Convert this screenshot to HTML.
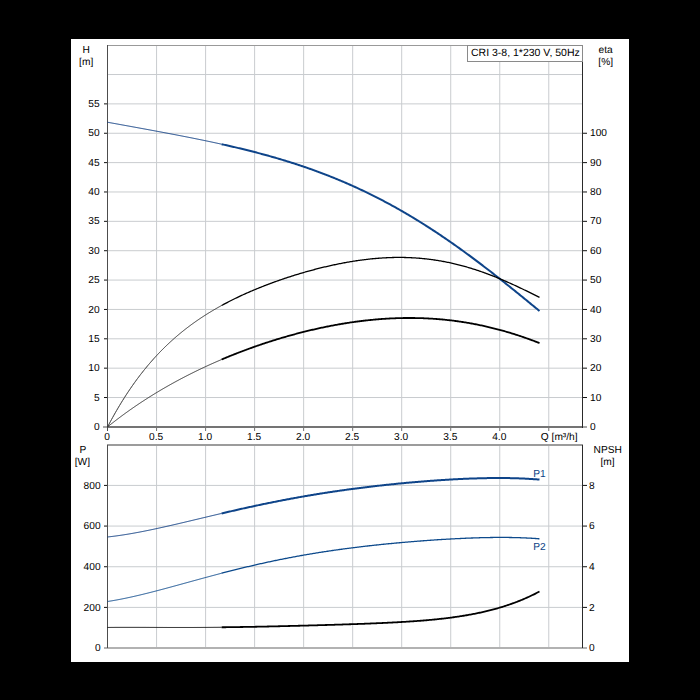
<!DOCTYPE html><html><head><meta charset="utf-8"><style>html,body{margin:0;padding:0;background:#000;width:700px;height:700px;overflow:hidden}svg{display:block}text{font-family:"Liberation Sans",sans-serif;font-size:10.2px;fill:#000;text-rendering:geometricPrecision}</style></head><body>
<svg width="700" height="700" viewBox="0 0 700 700">
<rect x="0" y="0" width="700" height="700" fill="#000"/>
<rect x="71" y="39" width="558" height="623" fill="#fff"/>
<line x1="156.57" y1="45" x2="156.57" y2="426" stroke="#c9cccf" stroke-width="1"/><line x1="205.60" y1="45" x2="205.60" y2="426" stroke="#c9cccf" stroke-width="1"/><line x1="254.62" y1="45" x2="254.62" y2="426" stroke="#c9cccf" stroke-width="1"/><line x1="303.65" y1="45" x2="303.65" y2="426" stroke="#c9cccf" stroke-width="1"/><line x1="352.68" y1="45" x2="352.68" y2="426" stroke="#c9cccf" stroke-width="1"/><line x1="401.70" y1="45" x2="401.70" y2="426" stroke="#c9cccf" stroke-width="1"/><line x1="450.73" y1="45" x2="450.73" y2="426" stroke="#c9cccf" stroke-width="1"/><line x1="499.75" y1="45" x2="499.75" y2="426" stroke="#c9cccf" stroke-width="1"/><line x1="548.77" y1="45" x2="548.77" y2="426" stroke="#c9cccf" stroke-width="1"/><line x1="107" y1="397.53" x2="582" y2="397.53" stroke="#c9cccf" stroke-width="1"/><line x1="107" y1="368.17" x2="582" y2="368.17" stroke="#c9cccf" stroke-width="1"/><line x1="107" y1="338.80" x2="582" y2="338.80" stroke="#c9cccf" stroke-width="1"/><line x1="107" y1="309.44" x2="582" y2="309.44" stroke="#c9cccf" stroke-width="1"/><line x1="107" y1="280.07" x2="582" y2="280.07" stroke="#c9cccf" stroke-width="1"/><line x1="107" y1="250.71" x2="582" y2="250.71" stroke="#c9cccf" stroke-width="1"/><line x1="107" y1="221.34" x2="582" y2="221.34" stroke="#c9cccf" stroke-width="1"/><line x1="107" y1="191.98" x2="582" y2="191.98" stroke="#c9cccf" stroke-width="1"/><line x1="107" y1="162.61" x2="582" y2="162.61" stroke="#c9cccf" stroke-width="1"/><line x1="107" y1="133.25" x2="582" y2="133.25" stroke="#c9cccf" stroke-width="1"/><line x1="107" y1="103.88" x2="582" y2="103.88" stroke="#c9cccf" stroke-width="1"/><line x1="107" y1="74.52" x2="582" y2="74.52" stroke="#c9cccf" stroke-width="1"/>
<line x1="107" y1="45.5" x2="583" y2="45.5" stroke="#999" stroke-width="1"/>
<rect x="103" y="426" width="4" height="2" fill="#a8a8a8"/><rect x="583" y="426" width="4" height="2" fill="#a8a8a8"/><rect x="107" y="426" width="476" height="2" fill="#747474"/>
<line x1="156.57" y1="428" x2="156.57" y2="431" stroke="#707070" stroke-width="1"/>
<line x1="205.60" y1="428" x2="205.60" y2="431" stroke="#707070" stroke-width="1"/>
<line x1="254.62" y1="428" x2="254.62" y2="431" stroke="#707070" stroke-width="1"/>
<line x1="303.65" y1="428" x2="303.65" y2="431" stroke="#707070" stroke-width="1"/>
<line x1="352.68" y1="428" x2="352.68" y2="431" stroke="#707070" stroke-width="1"/>
<line x1="401.70" y1="428" x2="401.70" y2="431" stroke="#707070" stroke-width="1"/>
<line x1="450.73" y1="428" x2="450.73" y2="431" stroke="#707070" stroke-width="1"/>
<line x1="499.75" y1="428" x2="499.75" y2="431" stroke="#707070" stroke-width="1"/>
<line x1="548.77" y1="428" x2="548.77" y2="431" stroke="#707070" stroke-width="1"/>
<line x1="104" y1="397.53" x2="107" y2="397.53" stroke="#111" stroke-width="1"/>
<line x1="104" y1="368.17" x2="107" y2="368.17" stroke="#111" stroke-width="1"/>
<line x1="104" y1="338.80" x2="107" y2="338.80" stroke="#111" stroke-width="1"/>
<line x1="104" y1="309.44" x2="107" y2="309.44" stroke="#111" stroke-width="1"/>
<line x1="104" y1="280.07" x2="107" y2="280.07" stroke="#111" stroke-width="1"/>
<line x1="104" y1="250.71" x2="107" y2="250.71" stroke="#111" stroke-width="1"/>
<line x1="104" y1="221.34" x2="107" y2="221.34" stroke="#111" stroke-width="1"/>
<line x1="104" y1="191.98" x2="107" y2="191.98" stroke="#111" stroke-width="1"/>
<line x1="104" y1="162.61" x2="107" y2="162.61" stroke="#111" stroke-width="1"/>
<line x1="104" y1="133.25" x2="107" y2="133.25" stroke="#111" stroke-width="1"/>
<line x1="104" y1="103.88" x2="107" y2="103.88" stroke="#111" stroke-width="1"/>
<line x1="583" y1="397.53" x2="587" y2="397.53" stroke="#111" stroke-width="1"/>
<line x1="583" y1="368.17" x2="587" y2="368.17" stroke="#111" stroke-width="1"/>
<line x1="583" y1="338.80" x2="587" y2="338.80" stroke="#111" stroke-width="1"/>
<line x1="583" y1="309.44" x2="587" y2="309.44" stroke="#111" stroke-width="1"/>
<line x1="583" y1="280.07" x2="587" y2="280.07" stroke="#111" stroke-width="1"/>
<line x1="583" y1="250.71" x2="587" y2="250.71" stroke="#111" stroke-width="1"/>
<line x1="583" y1="221.34" x2="587" y2="221.34" stroke="#111" stroke-width="1"/>
<line x1="583" y1="191.98" x2="587" y2="191.98" stroke="#111" stroke-width="1"/>
<line x1="583" y1="162.61" x2="587" y2="162.61" stroke="#111" stroke-width="1"/>
<line x1="583" y1="133.25" x2="587" y2="133.25" stroke="#111" stroke-width="1"/>
<rect x="107" y="45" width="1" height="386" fill="#4d4d4d"/>
<rect x="582" y="45" width="1" height="383" fill="#2a2a2a"/>
<rect x="467.5" y="45.5" width="115" height="16" fill="#fff" stroke="#8a8a8a" stroke-width="1"/>
<text x="471" y="56" style="font-size:10.5px">CRI 3-8, 1*230 V, 50Hz</text>
<text x="86.2" y="53" text-anchor="middle">H</text>
<text x="86.2" y="65" text-anchor="middle">[m]</text>
<text x="605.7" y="53" text-anchor="middle">eta</text>
<text x="605.7" y="65" text-anchor="middle">[%]</text>
<text x="99.6" y="430" text-anchor="end">0</text>
<text x="99.6" y="401" text-anchor="end">5</text>
<text x="99.6" y="371" text-anchor="end">10</text>
<text x="99.6" y="342" text-anchor="end">15</text>
<text x="99.6" y="313" text-anchor="end">20</text>
<text x="99.6" y="283" text-anchor="end">25</text>
<text x="99.6" y="254" text-anchor="end">30</text>
<text x="99.6" y="224" text-anchor="end">35</text>
<text x="99.6" y="195" text-anchor="end">40</text>
<text x="99.6" y="166" text-anchor="end">45</text>
<text x="99.6" y="136" text-anchor="end">50</text>
<text x="99.6" y="107" text-anchor="end">55</text>
<text x="590" y="430">0</text>
<text x="590" y="401">10</text>
<text x="590" y="371">20</text>
<text x="590" y="342">30</text>
<text x="590" y="313">40</text>
<text x="590" y="283">50</text>
<text x="590" y="254">60</text>
<text x="590" y="224">70</text>
<text x="590" y="195">80</text>
<text x="590" y="166">90</text>
<text x="590" y="136">100</text>
<text x="107.05" y="440" text-anchor="middle">0</text>
<text x="156.07" y="440" text-anchor="middle">0.5</text>
<text x="205.10" y="440" text-anchor="middle">1.0</text>
<text x="254.12" y="440" text-anchor="middle">1.5</text>
<text x="303.15" y="440" text-anchor="middle">2.0</text>
<text x="352.18" y="440" text-anchor="middle">2.5</text>
<text x="401.20" y="440" text-anchor="middle">3.0</text>
<text x="450.23" y="440" text-anchor="middle">3.5</text>
<text x="499.25" y="440" text-anchor="middle">4.0</text>
<text x="559.2" y="440" text-anchor="middle">Q [m³/h]</text>
<path d="M107.55,122.25 L108.55,122.43 L109.55,122.61 L110.55,122.80 L111.55,122.98 L112.55,123.16 L113.55,123.34 L114.55,123.52 L115.55,123.70 L116.55,123.88 L117.55,124.06 L118.55,124.24 L119.56,124.43 L120.56,124.61 L121.56,124.79 L122.56,124.97 L123.56,125.15 L124.56,125.33 L125.56,125.52 L126.56,125.70 L127.56,125.88 L128.56,126.06 L129.56,126.24 L130.56,126.42 L131.56,126.61 L132.56,126.79 L133.56,126.97 L134.56,127.15 L135.56,127.34 L136.56,127.52 L137.56,127.70 L138.56,127.88 L139.56,128.07 L140.56,128.25 L141.56,128.43 L142.57,128.62 L143.57,128.80 L144.57,128.98 L145.57,129.17 L146.57,129.35 L147.57,129.53 L148.57,129.72 L149.57,129.90 L150.57,130.09 L151.57,130.27 L152.57,130.46 L153.57,130.64 L154.57,130.83 L155.57,131.01 L156.57,131.20 L157.57,131.38 L158.57,131.57 L159.57,131.76 L160.57,131.94 L161.57,132.13 L162.57,132.32 L163.57,132.50 L164.57,132.69 L165.58,132.88 L166.58,133.07 L167.58,133.26 L168.58,133.45 L169.58,133.64 L170.58,133.83 L171.58,134.02 L172.58,134.21 L173.58,134.40 L174.58,134.59 L175.58,134.78 L176.58,134.97 L177.58,135.16 L178.58,135.36 L179.58,135.55 L180.58,135.74 L181.58,135.94 L182.58,136.13 L183.58,136.33 L184.58,136.52 L185.58,136.72 L186.58,136.91 L187.59,137.11 L188.59,137.31 L189.59,137.51 L190.59,137.71 L191.59,137.90 L192.59,138.10 L193.59,138.30 L194.59,138.51 L195.59,138.71 L196.59,138.91 L197.59,139.11 L198.59,139.31 L199.59,139.52 L200.59,139.72 L201.59,139.93 L202.59,140.13 L203.59,140.34 L204.59,140.55 L205.59,140.76 L206.59,140.97 L207.59,141.17 L208.59,141.38 L209.59,141.60 L210.60,141.81 L211.60,142.02 L212.60,142.23 L213.60,142.45 L214.60,142.66 L215.60,142.88 L216.60,143.09 L217.60,143.31 L218.60,143.53 L219.60,143.75 L220.60,143.97 L221.60,144.19" fill="none" stroke="#0a3a80" stroke-width="1"/>
<path d="M221.60,144.19 L222.60,144.41 L223.60,144.64 L224.60,144.86 L225.60,145.08 L226.60,145.31 L227.60,145.54 L228.60,145.76 L229.60,145.99 L230.60,146.22 L231.60,146.45 L232.60,146.68 L233.60,146.92 L234.60,147.15 L235.60,147.39 L236.60,147.62 L237.59,147.86 L238.59,148.10 L239.59,148.34 L240.59,148.58 L241.59,148.82 L242.59,149.06 L243.59,149.30 L244.59,149.55 L245.59,149.80 L246.59,150.04 L247.59,150.29 L248.59,150.54 L249.59,150.79 L250.59,151.05 L251.59,151.30 L252.59,151.56 L253.59,151.81 L254.59,152.07 L255.59,152.33 L256.59,152.59 L257.59,152.85 L258.59,153.12 L259.59,153.38 L260.59,153.65 L261.59,153.92 L262.59,154.19 L263.59,154.46 L264.59,154.73 L265.59,155.00 L266.59,155.28 L267.59,155.55 L268.59,155.83 L269.58,156.11 L270.58,156.39 L271.58,156.67 L272.58,156.96 L273.58,157.24 L274.58,157.53 L275.58,157.82 L276.58,158.11 L277.58,158.40 L278.58,158.70 L279.58,158.99 L280.58,159.29 L281.58,159.59 L282.58,159.89 L283.58,160.19 L284.58,160.50 L285.58,160.80 L286.58,161.11 L287.58,161.42 L288.58,161.73 L289.58,162.05 L290.58,162.36 L291.58,162.68 L292.58,162.99 L293.58,163.32 L294.58,163.64 L295.58,163.96 L296.58,164.29 L297.58,164.61 L298.58,164.94 L299.58,165.28 L300.58,165.61 L301.57,165.95 L302.57,166.28 L303.57,166.62 L304.57,166.96 L305.57,167.31 L306.57,167.65 L307.57,168.00 L308.57,168.35 L309.57,168.70 L310.57,169.05 L311.57,169.41 L312.57,169.77 L313.57,170.12 L314.57,170.49 L315.57,170.85 L316.57,171.22 L317.57,171.58 L318.57,171.95 L319.57,172.33 L320.57,172.70 L321.57,173.08 L322.57,173.46 L323.57,173.84 L324.57,174.22 L325.57,174.60 L326.57,174.99 L327.57,175.38 L328.57,175.77 L329.57,176.17 L330.57,176.56 L331.57,176.96 L332.57,177.36 L333.56,177.77 L334.56,178.17 L335.56,178.58 L336.56,178.99 L337.56,179.40 L338.56,179.82 L339.56,180.23 L340.56,180.65 L341.56,181.07 L342.56,181.50 L343.56,181.92 L344.56,182.35 L345.56,182.78 L346.56,183.22 L347.56,183.65 L348.56,184.09 L349.56,184.53 L350.56,184.97 L351.56,185.42 L352.56,185.87 L353.56,186.32 L354.56,186.77 L355.56,187.22 L356.56,187.68 L357.56,188.14 L358.56,188.60 L359.56,189.07 L360.56,189.54 L361.56,190.01 L362.56,190.48 L363.56,190.95 L364.56,191.43 L365.55,191.91 L366.55,192.39 L367.55,192.88 L368.55,193.37 L369.55,193.86 L370.55,194.35 L371.55,194.84 L372.55,195.34 L373.55,195.84 L374.55,196.34 L375.55,196.85 L376.55,197.36 L377.55,197.87 L378.55,198.38 L379.55,198.90 L380.55,199.41 L381.55,199.93 L382.55,200.46 L383.55,200.98 L384.55,201.51 L385.55,202.04 L386.55,202.57 L387.55,203.11 L388.55,203.65 L389.55,204.19 L390.55,204.73 L391.55,205.28 L392.55,205.83 L393.55,206.38 L394.55,206.94 L395.55,207.49 L396.54,208.05 L397.54,208.61 L398.54,209.18 L399.54,209.75 L400.54,210.31 L401.54,210.89 L402.54,211.46 L403.54,212.04 L404.54,212.62 L405.54,213.20 L406.54,213.79 L407.54,214.38 L408.54,214.97 L409.54,215.56 L410.54,216.15 L411.54,216.75 L412.54,217.35 L413.54,217.96 L414.54,218.56 L415.54,219.17 L416.54,219.78 L417.54,220.40 L418.54,221.01 L419.54,221.63 L420.54,222.25 L421.54,222.87 L422.54,223.50 L423.54,224.13 L424.54,224.76 L425.54,225.40 L426.54,226.03 L427.54,226.67 L428.53,227.31 L429.53,227.96 L430.53,228.60 L431.53,229.25 L432.53,229.90 L433.53,230.56 L434.53,231.21 L435.53,231.87 L436.53,232.53 L437.53,233.20 L438.53,233.86 L439.53,234.53 L440.53,235.20 L441.53,235.87 L442.53,236.55 L443.53,237.23 L444.53,237.91 L445.53,238.59 L446.53,239.28 L447.53,239.96 L448.53,240.65 L449.53,241.35 L450.53,242.04 L451.53,242.74 L452.53,243.44 L453.53,244.14 L454.53,244.84 L455.53,245.55 L456.53,246.25 L457.53,246.96 L458.53,247.68 L459.53,248.39 L460.52,249.11 L461.52,249.83 L462.52,250.55 L463.52,251.27 L464.52,252.00 L465.52,252.73 L466.52,253.45 L467.52,254.19 L468.52,254.92 L469.52,255.66 L470.52,256.39 L471.52,257.13 L472.52,257.88 L473.52,258.62 L474.52,259.37 L475.52,260.11 L476.52,260.86 L477.52,261.62 L478.52,262.37 L479.52,263.12 L480.52,263.88 L481.52,264.64 L482.52,265.40 L483.52,266.17 L484.52,266.93 L485.52,267.70 L486.52,268.46 L487.52,269.23 L488.52,270.01 L489.52,270.78 L490.52,271.55 L491.52,272.33 L492.51,273.11 L493.51,273.89 L494.51,274.67 L495.51,275.45 L496.51,276.24 L497.51,277.02 L498.51,277.81 L499.51,278.60 L500.51,279.39 L501.51,280.18 L502.51,280.97 L503.51,281.77 L504.51,282.56 L505.51,283.36 L506.51,284.16 L507.51,284.96 L508.51,285.76 L509.51,286.56 L510.51,287.36 L511.51,288.16 L512.51,288.97 L513.51,289.77 L514.51,290.58 L515.51,291.39 L516.51,292.20 L517.51,293.01 L518.51,293.82 L519.51,294.63 L520.51,295.44 L521.51,296.26 L522.51,297.07 L523.51,297.89 L524.50,298.70 L525.50,299.52 L526.50,300.34 L527.50,301.15 L528.50,301.97 L529.50,302.79 L530.50,303.61 L531.50,304.43 L532.50,305.25 L533.50,306.07 L534.50,306.89 L535.50,307.71 L536.50,308.53 L537.50,309.35 L538.50,310.18 L539.50,311.00" fill="none" stroke="#0e4489" stroke-width="2"/>
<path d="M107.55,426.96 L108.55,425.05 L109.55,423.17 L110.55,421.30 L111.55,419.46 L112.55,417.64 L113.55,415.84 L114.55,414.07 L115.55,412.31 L116.55,410.58 L117.55,408.86 L118.55,407.17 L119.56,405.49 L120.56,403.84 L121.56,402.20 L122.56,400.59 L123.56,398.99 L124.56,397.41 L125.56,395.85 L126.56,394.31 L127.56,392.79 L128.56,391.29 L129.56,389.80 L130.56,388.33 L131.56,386.88 L132.56,385.44 L133.56,384.03 L134.56,382.63 L135.56,381.24 L136.56,379.87 L137.56,378.52 L138.56,377.18 L139.56,375.86 L140.56,374.56 L141.56,373.27 L142.57,372.00 L143.57,370.74 L144.57,369.49 L145.57,368.26 L146.57,367.04 L147.57,365.84 L148.57,364.66 L149.57,363.48 L150.57,362.32 L151.57,361.17 L152.57,360.04 L153.57,358.92 L154.57,357.81 L155.57,356.72 L156.57,355.64 L157.57,354.57 L158.57,353.51 L159.57,352.46 L160.57,351.43 L161.57,350.41 L162.57,349.40 L163.57,348.40 L164.57,347.41 L165.58,346.43 L166.58,345.47 L167.58,344.51 L168.58,343.57 L169.58,342.64 L170.58,341.71 L171.58,340.80 L172.58,339.90 L173.58,339.01 L174.58,338.12 L175.58,337.25 L176.58,336.39 L177.58,335.53 L178.58,334.69 L179.58,333.85 L180.58,333.02 L181.58,332.21 L182.58,331.40 L183.58,330.60 L184.58,329.81 L185.58,329.02 L186.58,328.25 L187.59,327.48 L188.59,326.72 L189.59,325.97 L190.59,325.23 L191.59,324.49 L192.59,323.76 L193.59,323.04 L194.59,322.33 L195.59,321.62 L196.59,320.93 L197.59,320.23 L198.59,319.55 L199.59,318.87 L200.59,318.20 L201.59,317.54 L202.59,316.88 L203.59,316.23 L204.59,315.58 L205.59,314.94 L206.59,314.31 L207.59,313.68 L208.59,313.06 L209.59,312.45 L210.60,311.84 L211.60,311.24 L212.60,310.64 L213.60,310.05 L214.60,309.46 L215.60,308.88 L216.60,308.30 L217.60,307.73 L218.60,307.17 L219.60,306.61 L220.60,306.05 L221.60,305.50" fill="none" stroke="#333" stroke-width="1"/>
<path d="M221.60,305.50 L222.60,304.96 L223.60,304.42 L224.60,303.88 L225.60,303.35 L226.60,302.83 L227.60,302.31 L228.60,301.79 L229.60,301.28 L230.60,300.77 L231.60,300.26 L232.60,299.76 L233.60,299.27 L234.60,298.78 L235.60,298.29 L236.60,297.81 L237.59,297.33 L238.59,296.85 L239.59,296.38 L240.59,295.91 L241.59,295.45 L242.59,294.99 L243.59,294.53 L244.59,294.08 L245.59,293.63 L246.59,293.18 L247.59,292.74 L248.59,292.30 L249.59,291.86 L250.59,291.43 L251.59,291.00 L252.59,290.57 L253.59,290.15 L254.59,289.73 L255.59,289.31 L256.59,288.90 L257.59,288.49 L258.59,288.08 L259.59,287.68 L260.59,287.28 L261.59,286.88 L262.59,286.48 L263.59,286.09 L264.59,285.70 L265.59,285.32 L266.59,284.93 L267.59,284.55 L268.59,284.17 L269.58,283.80 L270.58,283.42 L271.58,283.05 L272.58,282.69 L273.58,282.32 L274.58,281.96 L275.58,281.60 L276.58,281.24 L277.58,280.89 L278.58,280.53 L279.58,280.19 L280.58,279.84 L281.58,279.49 L282.58,279.15 L283.58,278.81 L284.58,278.48 L285.58,278.14 L286.58,277.81 L287.58,277.48 L288.58,277.15 L289.58,276.83 L290.58,276.51 L291.58,276.19 L292.58,275.87 L293.58,275.56 L294.58,275.24 L295.58,274.93 L296.58,274.63 L297.58,274.32 L298.58,274.02 L299.58,273.72 L300.58,273.42 L301.57,273.12 L302.57,272.83 L303.57,272.54 L304.57,272.25 L305.57,271.97 L306.57,271.68 L307.57,271.40 L308.57,271.12 L309.57,270.85 L310.57,270.57 L311.57,270.30 L312.57,270.03 L313.57,269.76 L314.57,269.50 L315.57,269.24 L316.57,268.98 L317.57,268.72 L318.57,268.47 L319.57,268.22 L320.57,267.97 L321.57,267.72 L322.57,267.47 L323.57,267.23 L324.57,266.99 L325.57,266.76 L326.57,266.52 L327.57,266.29 L328.57,266.06 L329.57,265.84 L330.57,265.61 L331.57,265.39 L332.57,265.17 L333.56,264.95 L334.56,264.74 L335.56,264.53 L336.56,264.32 L337.56,264.12 L338.56,263.91 L339.56,263.71 L340.56,263.52 L341.56,263.32 L342.56,263.13 L343.56,262.94 L344.56,262.76 L345.56,262.57 L346.56,262.39 L347.56,262.22 L348.56,262.04 L349.56,261.87 L350.56,261.70 L351.56,261.54 L352.56,261.37 L353.56,261.21 L354.56,261.06 L355.56,260.90 L356.56,260.75 L357.56,260.60 L358.56,260.46 L359.56,260.32 L360.56,260.18 L361.56,260.04 L362.56,259.91 L363.56,259.78 L364.56,259.66 L365.55,259.53 L366.55,259.41 L367.55,259.30 L368.55,259.19 L369.55,259.08 L370.55,258.97 L371.55,258.87 L372.55,258.77 L373.55,258.67 L374.55,258.58 L375.55,258.49 L376.55,258.40 L377.55,258.32 L378.55,258.24 L379.55,258.17 L380.55,258.10 L381.55,258.03 L382.55,257.96 L383.55,257.90 L384.55,257.85 L385.55,257.79 L386.55,257.74 L387.55,257.69 L388.55,257.65 L389.55,257.61 L390.55,257.58 L391.55,257.55 L392.55,257.52 L393.55,257.49 L394.55,257.47 L395.55,257.46 L396.54,257.45 L397.54,257.44 L398.54,257.43 L399.54,257.43 L400.54,257.43 L401.54,257.44 L402.54,257.45 L403.54,257.47 L404.54,257.49 L405.54,257.51 L406.54,257.54 L407.54,257.57 L408.54,257.60 L409.54,257.64 L410.54,257.68 L411.54,257.73 L412.54,257.78 L413.54,257.84 L414.54,257.90 L415.54,257.96 L416.54,258.03 L417.54,258.10 L418.54,258.18 L419.54,258.26 L420.54,258.35 L421.54,258.44 L422.54,258.53 L423.54,258.63 L424.54,258.73 L425.54,258.83 L426.54,258.95 L427.54,259.06 L428.53,259.18 L429.53,259.30 L430.53,259.43 L431.53,259.56 L432.53,259.70 L433.53,259.84 L434.53,259.99 L435.53,260.14 L436.53,260.29 L437.53,260.45 L438.53,260.61 L439.53,260.78 L440.53,260.95 L441.53,261.13 L442.53,261.31 L443.53,261.49 L444.53,261.68 L445.53,261.88 L446.53,262.07 L447.53,262.28 L448.53,262.48 L449.53,262.69 L450.53,262.91 L451.53,263.13 L452.53,263.35 L453.53,263.58 L454.53,263.82 L455.53,264.05 L456.53,264.30 L457.53,264.54 L458.53,264.79 L459.53,265.05 L460.52,265.31 L461.52,265.57 L462.52,265.84 L463.52,266.11 L464.52,266.39 L465.52,266.67 L466.52,266.96 L467.52,267.25 L468.52,267.54 L469.52,267.84 L470.52,268.14 L471.52,268.45 L472.52,268.76 L473.52,269.07 L474.52,269.39 L475.52,269.72 L476.52,270.04 L477.52,270.37 L478.52,270.71 L479.52,271.05 L480.52,271.39 L481.52,271.74 L482.52,272.09 L483.52,272.45 L484.52,272.81 L485.52,273.17 L486.52,273.54 L487.52,273.91 L488.52,274.28 L489.52,274.66 L490.52,275.05 L491.52,275.43 L492.51,275.82 L493.51,276.21 L494.51,276.61 L495.51,277.01 L496.51,277.42 L497.51,277.82 L498.51,278.23 L499.51,278.65 L500.51,279.07 L501.51,279.49 L502.51,279.91 L503.51,280.34 L504.51,280.77 L505.51,281.20 L506.51,281.64 L507.51,282.08 L508.51,282.53 L509.51,282.97 L510.51,283.42 L511.51,283.87 L512.51,284.33 L513.51,284.78 L514.51,285.24 L515.51,285.71 L516.51,286.17 L517.51,286.64 L518.51,287.11 L519.51,287.58 L520.51,288.06 L521.51,288.53 L522.51,289.01 L523.51,289.49 L524.50,289.98 L525.50,290.46 L526.50,290.95 L527.50,291.44 L528.50,291.93 L529.50,292.42 L530.50,292.91 L531.50,293.41 L532.50,293.91 L533.50,294.41 L534.50,294.91 L535.50,295.41 L536.50,295.91 L537.50,296.41 L538.50,296.91 L539.50,297.42" fill="none" stroke="#000" stroke-width="1.3"/>
<path d="M107.55,426.88 L108.55,426.08 L109.55,425.28 L110.55,424.48 L111.55,423.69 L112.55,422.91 L113.55,422.13 L114.55,421.35 L115.55,420.58 L116.55,419.82 L117.55,419.05 L118.55,418.30 L119.56,417.54 L120.56,416.80 L121.56,416.05 L122.56,415.31 L123.56,414.58 L124.56,413.85 L125.56,413.12 L126.56,412.40 L127.56,411.68 L128.56,410.97 L129.56,410.26 L130.56,409.56 L131.56,408.86 L132.56,408.16 L133.56,407.47 L134.56,406.78 L135.56,406.10 L136.56,405.42 L137.56,404.74 L138.56,404.07 L139.56,403.40 L140.56,402.73 L141.56,402.07 L142.57,401.42 L143.57,400.76 L144.57,400.11 L145.57,399.47 L146.57,398.83 L147.57,398.19 L148.57,397.55 L149.57,396.92 L150.57,396.29 L151.57,395.67 L152.57,395.05 L153.57,394.43 L154.57,393.82 L155.57,393.21 L156.57,392.60 L157.57,392.00 L158.57,391.40 L159.57,390.80 L160.57,390.21 L161.57,389.62 L162.57,389.03 L163.57,388.45 L164.57,387.87 L165.58,387.29 L166.58,386.72 L167.58,386.15 L168.58,385.58 L169.58,385.02 L170.58,384.46 L171.58,383.90 L172.58,383.34 L173.58,382.79 L174.58,382.24 L175.58,381.70 L176.58,381.15 L177.58,380.61 L178.58,380.08 L179.58,379.54 L180.58,379.01 L181.58,378.48 L182.58,377.96 L183.58,377.43 L184.58,376.92 L185.58,376.40 L186.58,375.88 L187.59,375.37 L188.59,374.86 L189.59,374.36 L190.59,373.85 L191.59,373.35 L192.59,372.86 L193.59,372.36 L194.59,371.87 L195.59,371.38 L196.59,370.89 L197.59,370.41 L198.59,369.92 L199.59,369.44 L200.59,368.97 L201.59,368.49 L202.59,368.02 L203.59,367.55 L204.59,367.09 L205.59,366.62 L206.59,366.16 L207.59,365.70 L208.59,365.24 L209.59,364.79 L210.60,364.34 L211.60,363.89 L212.60,363.44 L213.60,362.99 L214.60,362.55 L215.60,362.11 L216.60,361.67 L217.60,361.24 L218.60,360.81 L219.60,360.38 L220.60,359.95 L221.60,359.52" fill="none" stroke="#333" stroke-width="1"/>
<path d="M221.60,359.52 L222.60,359.10 L223.60,358.68 L224.60,358.26 L225.60,357.84 L226.60,357.43 L227.60,357.02 L228.60,356.61 L229.60,356.20 L230.60,355.79 L231.60,355.39 L232.60,354.99 L233.60,354.59 L234.60,354.19 L235.60,353.80 L236.60,353.41 L237.59,353.02 L238.59,352.63 L239.59,352.25 L240.59,351.86 L241.59,351.48 L242.59,351.10 L243.59,350.73 L244.59,350.35 L245.59,349.98 L246.59,349.61 L247.59,349.24 L248.59,348.87 L249.59,348.51 L250.59,348.15 L251.59,347.79 L252.59,347.43 L253.59,347.07 L254.59,346.72 L255.59,346.37 L256.59,346.02 L257.59,345.67 L258.59,345.33 L259.59,344.98 L260.59,344.64 L261.59,344.30 L262.59,343.97 L263.59,343.63 L264.59,343.30 L265.59,342.97 L266.59,342.64 L267.59,342.31 L268.59,341.99 L269.58,341.67 L270.58,341.35 L271.58,341.03 L272.58,340.71 L273.58,340.40 L274.58,340.08 L275.58,339.77 L276.58,339.47 L277.58,339.16 L278.58,338.86 L279.58,338.55 L280.58,338.25 L281.58,337.96 L282.58,337.66 L283.58,337.37 L284.58,337.08 L285.58,336.79 L286.58,336.50 L287.58,336.21 L288.58,335.93 L289.58,335.65 L290.58,335.37 L291.58,335.09 L292.58,334.82 L293.58,334.54 L294.58,334.27 L295.58,334.00 L296.58,333.73 L297.58,333.47 L298.58,333.21 L299.58,332.95 L300.58,332.69 L301.57,332.43 L302.57,332.18 L303.57,331.92 L304.57,331.67 L305.57,331.43 L306.57,331.18 L307.57,330.93 L308.57,330.69 L309.57,330.45 L310.57,330.21 L311.57,329.98 L312.57,329.75 L313.57,329.51 L314.57,329.28 L315.57,329.06 L316.57,328.83 L317.57,328.61 L318.57,328.39 L319.57,328.17 L320.57,327.95 L321.57,327.74 L322.57,327.53 L323.57,327.32 L324.57,327.11 L325.57,326.90 L326.57,326.70 L327.57,326.50 L328.57,326.30 L329.57,326.10 L330.57,325.91 L331.57,325.71 L332.57,325.52 L333.56,325.34 L334.56,325.15 L335.56,324.97 L336.56,324.78 L337.56,324.60 L338.56,324.43 L339.56,324.25 L340.56,324.08 L341.56,323.91 L342.56,323.74 L343.56,323.58 L344.56,323.41 L345.56,323.25 L346.56,323.09 L347.56,322.94 L348.56,322.78 L349.56,322.63 L350.56,322.48 L351.56,322.33 L352.56,322.19 L353.56,322.04 L354.56,321.90 L355.56,321.76 L356.56,321.63 L357.56,321.50 L358.56,321.36 L359.56,321.24 L360.56,321.11 L361.56,320.99 L362.56,320.86 L363.56,320.74 L364.56,320.63 L365.55,320.51 L366.55,320.40 L367.55,320.29 L368.55,320.18 L369.55,320.08 L370.55,319.98 L371.55,319.88 L372.55,319.78 L373.55,319.69 L374.55,319.59 L375.55,319.50 L376.55,319.42 L377.55,319.33 L378.55,319.25 L379.55,319.17 L380.55,319.09 L381.55,319.02 L382.55,318.94 L383.55,318.87 L384.55,318.81 L385.55,318.74 L386.55,318.68 L387.55,318.62 L388.55,318.56 L389.55,318.51 L390.55,318.46 L391.55,318.41 L392.55,318.36 L393.55,318.32 L394.55,318.28 L395.55,318.24 L396.54,318.20 L397.54,318.17 L398.54,318.14 L399.54,318.11 L400.54,318.08 L401.54,318.06 L402.54,318.04 L403.54,318.02 L404.54,318.01 L405.54,318.00 L406.54,317.99 L407.54,317.98 L408.54,317.98 L409.54,317.98 L410.54,317.98 L411.54,317.98 L412.54,317.99 L413.54,318.00 L414.54,318.01 L415.54,318.03 L416.54,318.04 L417.54,318.06 L418.54,318.09 L419.54,318.11 L420.54,318.14 L421.54,318.18 L422.54,318.21 L423.54,318.25 L424.54,318.29 L425.54,318.33 L426.54,318.38 L427.54,318.43 L428.53,318.48 L429.53,318.53 L430.53,318.59 L431.53,318.65 L432.53,318.72 L433.53,318.78 L434.53,318.85 L435.53,318.92 L436.53,319.00 L437.53,319.08 L438.53,319.16 L439.53,319.24 L440.53,319.33 L441.53,319.42 L442.53,319.51 L443.53,319.61 L444.53,319.70 L445.53,319.81 L446.53,319.91 L447.53,320.02 L448.53,320.13 L449.53,320.24 L450.53,320.36 L451.53,320.48 L452.53,320.60 L453.53,320.73 L454.53,320.85 L455.53,320.99 L456.53,321.12 L457.53,321.26 L458.53,321.40 L459.53,321.54 L460.52,321.69 L461.52,321.84 L462.52,321.99 L463.52,322.15 L464.52,322.30 L465.52,322.47 L466.52,322.63 L467.52,322.80 L468.52,322.97 L469.52,323.14 L470.52,323.32 L471.52,323.50 L472.52,323.69 L473.52,323.87 L474.52,324.06 L475.52,324.25 L476.52,324.45 L477.52,324.65 L478.52,324.85 L479.52,325.06 L480.52,325.26 L481.52,325.48 L482.52,325.69 L483.52,325.91 L484.52,326.13 L485.52,326.35 L486.52,326.58 L487.52,326.81 L488.52,327.04 L489.52,327.28 L490.52,327.52 L491.52,327.76 L492.51,328.01 L493.51,328.26 L494.51,328.51 L495.51,328.76 L496.51,329.02 L497.51,329.28 L498.51,329.55 L499.51,329.81 L500.51,330.09 L501.51,330.36 L502.51,330.64 L503.51,330.92 L504.51,331.20 L505.51,331.49 L506.51,331.78 L507.51,332.07 L508.51,332.36 L509.51,332.66 L510.51,332.97 L511.51,333.27 L512.51,333.58 L513.51,333.89 L514.51,334.21 L515.51,334.52 L516.51,334.85 L517.51,335.17 L518.51,335.50 L519.51,335.83 L520.51,336.16 L521.51,336.50 L522.51,336.84 L523.51,337.18 L524.50,337.53 L525.50,337.88 L526.50,338.23 L527.50,338.58 L528.50,338.94 L529.50,339.30 L530.50,339.67 L531.50,340.04 L532.50,340.41 L533.50,340.78 L534.50,341.16 L535.50,341.54 L536.50,341.92 L537.50,342.31 L538.50,342.70 L539.50,343.09" fill="none" stroke="#000" stroke-width="1.8"/>
<line x1="156.57" y1="445" x2="156.57" y2="647" stroke="#c9cccf" stroke-width="1"/><line x1="205.60" y1="445" x2="205.60" y2="647" stroke="#c9cccf" stroke-width="1"/><line x1="254.62" y1="445" x2="254.62" y2="647" stroke="#c9cccf" stroke-width="1"/><line x1="303.65" y1="445" x2="303.65" y2="647" stroke="#c9cccf" stroke-width="1"/><line x1="352.68" y1="445" x2="352.68" y2="647" stroke="#c9cccf" stroke-width="1"/><line x1="401.70" y1="445" x2="401.70" y2="647" stroke="#c9cccf" stroke-width="1"/><line x1="450.73" y1="445" x2="450.73" y2="647" stroke="#c9cccf" stroke-width="1"/><line x1="499.75" y1="445" x2="499.75" y2="647" stroke="#c9cccf" stroke-width="1"/><line x1="548.77" y1="445" x2="548.77" y2="647" stroke="#c9cccf" stroke-width="1"/><line x1="107" y1="607.40" x2="582" y2="607.40" stroke="#c9cccf" stroke-width="1"/><line x1="107" y1="566.74" x2="582" y2="566.74" stroke="#c9cccf" stroke-width="1"/><line x1="107" y1="526.07" x2="582" y2="526.07" stroke="#c9cccf" stroke-width="1"/><line x1="107" y1="485.41" x2="582" y2="485.41" stroke="#c9cccf" stroke-width="1"/>
<rect x="107" y="444" width="476" height="2" fill="#9c9c9c"/>
<rect x="104" y="647" width="483" height="2" fill="#b2b2b2"/>
<line x1="104" y1="607.40" x2="107" y2="607.40" stroke="#111" stroke-width="1"/>
<line x1="583" y1="607.40" x2="587" y2="607.40" stroke="#111" stroke-width="1"/>
<line x1="104" y1="566.74" x2="107" y2="566.74" stroke="#111" stroke-width="1"/>
<line x1="583" y1="566.74" x2="587" y2="566.74" stroke="#111" stroke-width="1"/>
<line x1="104" y1="526.07" x2="107" y2="526.07" stroke="#111" stroke-width="1"/>
<line x1="583" y1="526.07" x2="587" y2="526.07" stroke="#111" stroke-width="1"/>
<line x1="104" y1="485.41" x2="107" y2="485.41" stroke="#111" stroke-width="1"/>
<line x1="583" y1="485.41" x2="587" y2="485.41" stroke="#111" stroke-width="1"/>
<rect x="107" y="445" width="1" height="203" fill="#4d4d4d"/>
<rect x="582" y="445" width="1" height="203" fill="#2a2a2a"/>
<text x="82.9" y="453" text-anchor="middle">P</text>
<text x="82.4" y="465" text-anchor="middle">[W]</text>
<text x="607.7" y="453" text-anchor="middle">NPSH</text>
<text x="607.5" y="465" text-anchor="middle">[m]</text>
<text x="100.6" y="651" text-anchor="end">0</text>
<text x="589" y="651">0</text>
<text x="100.6" y="611" text-anchor="end">200</text>
<text x="589" y="611">2</text>
<text x="100.6" y="570" text-anchor="end">400</text>
<text x="589" y="570">4</text>
<text x="100.6" y="529" text-anchor="end">600</text>
<text x="589" y="529">6</text>
<text x="100.6" y="489" text-anchor="end">800</text>
<text x="589" y="489">8</text>
<path d="M107.55,536.98 L108.55,536.87 L109.55,536.76 L110.55,536.65 L111.55,536.53 L112.55,536.40 L113.55,536.28 L114.55,536.15 L115.55,536.02 L116.55,535.88 L117.55,535.74 L118.55,535.60 L119.56,535.46 L120.56,535.31 L121.56,535.17 L122.56,535.01 L123.56,534.86 L124.56,534.70 L125.56,534.54 L126.56,534.38 L127.56,534.22 L128.56,534.05 L129.56,533.88 L130.56,533.71 L131.56,533.54 L132.56,533.36 L133.56,533.18 L134.56,533.01 L135.56,532.82 L136.56,532.64 L137.56,532.45 L138.56,532.27 L139.56,532.08 L140.56,531.89 L141.56,531.69 L142.57,531.50 L143.57,531.30 L144.57,531.10 L145.57,530.90 L146.57,530.70 L147.57,530.50 L148.57,530.29 L149.57,530.09 L150.57,529.88 L151.57,529.67 L152.57,529.46 L153.57,529.25 L154.57,529.04 L155.57,528.82 L156.57,528.61 L157.57,528.39 L158.57,528.17 L159.57,527.95 L160.57,527.73 L161.57,527.51 L162.57,527.29 L163.57,527.07 L164.57,526.84 L165.58,526.62 L166.58,526.39 L167.58,526.17 L168.58,525.94 L169.58,525.71 L170.58,525.48 L171.58,525.25 L172.58,525.02 L173.58,524.79 L174.58,524.56 L175.58,524.33 L176.58,524.10 L177.58,523.86 L178.58,523.63 L179.58,523.40 L180.58,523.16 L181.58,522.93 L182.58,522.69 L183.58,522.46 L184.58,522.22 L185.58,521.98 L186.58,521.75 L187.59,521.51 L188.59,521.27 L189.59,521.03 L190.59,520.80 L191.59,520.56 L192.59,520.32 L193.59,520.08 L194.59,519.84 L195.59,519.60 L196.59,519.37 L197.59,519.13 L198.59,518.89 L199.59,518.65 L200.59,518.41 L201.59,518.17 L202.59,517.93 L203.59,517.70 L204.59,517.46 L205.59,517.22 L206.59,516.98 L207.59,516.74 L208.59,516.50 L209.59,516.27 L210.60,516.03 L211.60,515.79 L212.60,515.55 L213.60,515.32 L214.60,515.08 L215.60,514.84 L216.60,514.61 L217.60,514.37 L218.60,514.14 L219.60,513.90 L220.60,513.67 L221.60,513.43" fill="none" stroke="#0a3a80" stroke-width="1"/>
<path d="M221.60,513.43 L222.60,513.20 L223.60,512.97 L224.60,512.73 L225.60,512.50 L226.60,512.27 L227.60,512.04 L228.60,511.81 L229.60,511.58 L230.60,511.35 L231.60,511.12 L232.60,510.89 L233.60,510.66 L234.60,510.43 L235.60,510.20 L236.60,509.98 L237.59,509.75 L238.59,509.52 L239.59,509.30 L240.59,509.07 L241.59,508.85 L242.59,508.63 L243.59,508.40 L244.59,508.18 L245.59,507.96 L246.59,507.74 L247.59,507.52 L248.59,507.30 L249.59,507.08 L250.59,506.86 L251.59,506.65 L252.59,506.43 L253.59,506.21 L254.59,506.00 L255.59,505.78 L256.59,505.57 L257.59,505.36 L258.59,505.14 L259.59,504.93 L260.59,504.72 L261.59,504.51 L262.59,504.30 L263.59,504.10 L264.59,503.89 L265.59,503.68 L266.59,503.47 L267.59,503.27 L268.59,503.06 L269.58,502.86 L270.58,502.66 L271.58,502.46 L272.58,502.26 L273.58,502.05 L274.58,501.86 L275.58,501.66 L276.58,501.46 L277.58,501.26 L278.58,501.07 L279.58,500.87 L280.58,500.68 L281.58,500.48 L282.58,500.29 L283.58,500.10 L284.58,499.91 L285.58,499.72 L286.58,499.53 L287.58,499.34 L288.58,499.15 L289.58,498.96 L290.58,498.78 L291.58,498.59 L292.58,498.41 L293.58,498.22 L294.58,498.04 L295.58,497.86 L296.58,497.68 L297.58,497.50 L298.58,497.32 L299.58,497.14 L300.58,496.97 L301.57,496.79 L302.57,496.61 L303.57,496.44 L304.57,496.27 L305.57,496.09 L306.57,495.92 L307.57,495.75 L308.57,495.58 L309.57,495.41 L310.57,495.24 L311.57,495.07 L312.57,494.91 L313.57,494.74 L314.57,494.58 L315.57,494.41 L316.57,494.25 L317.57,494.09 L318.57,493.92 L319.57,493.76 L320.57,493.60 L321.57,493.44 L322.57,493.29 L323.57,493.13 L324.57,492.97 L325.57,492.82 L326.57,492.66 L327.57,492.51 L328.57,492.36 L329.57,492.20 L330.57,492.05 L331.57,491.90 L332.57,491.75 L333.56,491.60 L334.56,491.45 L335.56,491.31 L336.56,491.16 L337.56,491.02 L338.56,490.87 L339.56,490.73 L340.56,490.58 L341.56,490.44 L342.56,490.30 L343.56,490.16 L344.56,490.02 L345.56,489.88 L346.56,489.74 L347.56,489.61 L348.56,489.47 L349.56,489.33 L350.56,489.20 L351.56,489.06 L352.56,488.93 L353.56,488.80 L354.56,488.67 L355.56,488.54 L356.56,488.41 L357.56,488.28 L358.56,488.15 L359.56,488.02 L360.56,487.89 L361.56,487.77 L362.56,487.64 L363.56,487.52 L364.56,487.39 L365.55,487.27 L366.55,487.15 L367.55,487.03 L368.55,486.90 L369.55,486.78 L370.55,486.67 L371.55,486.55 L372.55,486.43 L373.55,486.31 L374.55,486.20 L375.55,486.08 L376.55,485.96 L377.55,485.85 L378.55,485.74 L379.55,485.62 L380.55,485.51 L381.55,485.40 L382.55,485.29 L383.55,485.18 L384.55,485.07 L385.55,484.96 L386.55,484.86 L387.55,484.75 L388.55,484.64 L389.55,484.54 L390.55,484.43 L391.55,484.33 L392.55,484.23 L393.55,484.13 L394.55,484.02 L395.55,483.92 L396.54,483.82 L397.54,483.72 L398.54,483.62 L399.54,483.53 L400.54,483.43 L401.54,483.33 L402.54,483.24 L403.54,483.14 L404.54,483.05 L405.54,482.95 L406.54,482.86 L407.54,482.77 L408.54,482.68 L409.54,482.59 L410.54,482.50 L411.54,482.41 L412.54,482.32 L413.54,482.23 L414.54,482.14 L415.54,482.06 L416.54,481.97 L417.54,481.89 L418.54,481.80 L419.54,481.72 L420.54,481.64 L421.54,481.56 L422.54,481.48 L423.54,481.40 L424.54,481.32 L425.54,481.24 L426.54,481.16 L427.54,481.08 L428.53,481.01 L429.53,480.93 L430.53,480.86 L431.53,480.78 L432.53,480.71 L433.53,480.64 L434.53,480.56 L435.53,480.49 L436.53,480.42 L437.53,480.35 L438.53,480.29 L439.53,480.22 L440.53,480.15 L441.53,480.09 L442.53,480.02 L443.53,479.96 L444.53,479.89 L445.53,479.83 L446.53,479.77 L447.53,479.71 L448.53,479.65 L449.53,479.59 L450.53,479.53 L451.53,479.48 L452.53,479.42 L453.53,479.37 L454.53,479.31 L455.53,479.26 L456.53,479.21 L457.53,479.15 L458.53,479.10 L459.53,479.05 L460.52,479.01 L461.52,478.96 L462.52,478.91 L463.52,478.87 L464.52,478.82 L465.52,478.78 L466.52,478.74 L467.52,478.70 L468.52,478.66 L469.52,478.62 L470.52,478.58 L471.52,478.54 L472.52,478.51 L473.52,478.47 L474.52,478.44 L475.52,478.41 L476.52,478.38 L477.52,478.35 L478.52,478.32 L479.52,478.29 L480.52,478.27 L481.52,478.24 L482.52,478.22 L483.52,478.19 L484.52,478.17 L485.52,478.15 L486.52,478.14 L487.52,478.12 L488.52,478.10 L489.52,478.09 L490.52,478.08 L491.52,478.06 L492.51,478.05 L493.51,478.05 L494.51,478.04 L495.51,478.03 L496.51,478.03 L497.51,478.03 L498.51,478.02 L499.51,478.03 L500.51,478.03 L501.51,478.03 L502.51,478.04 L503.51,478.04 L504.51,478.05 L505.51,478.06 L506.51,478.07 L507.51,478.09 L508.51,478.10 L509.51,478.12 L510.51,478.14 L511.51,478.16 L512.51,478.18 L513.51,478.21 L514.51,478.24 L515.51,478.26 L516.51,478.29 L517.51,478.33 L518.51,478.36 L519.51,478.40 L520.51,478.44 L521.51,478.48 L522.51,478.52 L523.51,478.56 L524.50,478.61 L525.50,478.66 L526.50,478.71 L527.50,478.77 L528.50,478.82 L529.50,478.88 L530.50,478.94 L531.50,479.00 L532.50,479.07 L533.50,479.14 L534.50,479.21 L535.50,479.28 L536.50,479.35 L537.50,479.43 L538.50,479.51 L539.50,479.60" fill="none" stroke="#0e4489" stroke-width="2"/>
<path d="M107.55,601.49 L108.55,601.34 L109.55,601.18 L110.55,601.02 L111.55,600.86 L112.55,600.69 L113.55,600.52 L114.55,600.34 L115.55,600.17 L116.55,599.99 L117.55,599.80 L118.55,599.62 L119.56,599.43 L120.56,599.23 L121.56,599.04 L122.56,598.84 L123.56,598.64 L124.56,598.43 L125.56,598.23 L126.56,598.02 L127.56,597.81 L128.56,597.59 L129.56,597.38 L130.56,597.16 L131.56,596.94 L132.56,596.72 L133.56,596.49 L134.56,596.26 L135.56,596.04 L136.56,595.80 L137.56,595.57 L138.56,595.34 L139.56,595.10 L140.56,594.86 L141.56,594.62 L142.57,594.38 L143.57,594.14 L144.57,593.89 L145.57,593.64 L146.57,593.40 L147.57,593.15 L148.57,592.90 L149.57,592.64 L150.57,592.39 L151.57,592.13 L152.57,591.88 L153.57,591.62 L154.57,591.36 L155.57,591.10 L156.57,590.84 L157.57,590.58 L158.57,590.32 L159.57,590.05 L160.57,589.79 L161.57,589.52 L162.57,589.26 L163.57,588.99 L164.57,588.72 L165.58,588.45 L166.58,588.18 L167.58,587.91 L168.58,587.64 L169.58,587.37 L170.58,587.10 L171.58,586.83 L172.58,586.56 L173.58,586.28 L174.58,586.01 L175.58,585.74 L176.58,585.46 L177.58,585.19 L178.58,584.92 L179.58,584.64 L180.58,584.37 L181.58,584.09 L182.58,583.82 L183.58,583.54 L184.58,583.26 L185.58,582.99 L186.58,582.71 L187.59,582.44 L188.59,582.16 L189.59,581.89 L190.59,581.61 L191.59,581.34 L192.59,581.06 L193.59,580.79 L194.59,580.51 L195.59,580.24 L196.59,579.96 L197.59,579.69 L198.59,579.42 L199.59,579.14 L200.59,578.87 L201.59,578.60 L202.59,578.32 L203.59,578.05 L204.59,577.78 L205.59,577.51 L206.59,577.24 L207.59,576.97 L208.59,576.70 L209.59,576.43 L210.60,576.16 L211.60,575.89 L212.60,575.63 L213.60,575.36 L214.60,575.09 L215.60,574.83 L216.60,574.56 L217.60,574.30 L218.60,574.03 L219.60,573.77 L220.60,573.51 L221.60,573.25" fill="none" stroke="#0d4a8c" stroke-width="1"/>
<path d="M221.60,573.25 L222.60,572.99 L223.60,572.73 L224.60,572.47 L225.60,572.21 L226.60,571.95 L227.60,571.69 L228.60,571.44 L229.60,571.18 L230.60,570.93 L231.60,570.67 L232.60,570.42 L233.60,570.17 L234.60,569.92 L235.60,569.67 L236.60,569.42 L237.59,569.17 L238.59,568.92 L239.59,568.68 L240.59,568.43 L241.59,568.19 L242.59,567.95 L243.59,567.70 L244.59,567.46 L245.59,567.22 L246.59,566.98 L247.59,566.74 L248.59,566.51 L249.59,566.27 L250.59,566.03 L251.59,565.80 L252.59,565.57 L253.59,565.33 L254.59,565.10 L255.59,564.87 L256.59,564.64 L257.59,564.42 L258.59,564.19 L259.59,563.96 L260.59,563.74 L261.59,563.52 L262.59,563.29 L263.59,563.07 L264.59,562.85 L265.59,562.63 L266.59,562.42 L267.59,562.20 L268.59,561.98 L269.58,561.77 L270.58,561.55 L271.58,561.34 L272.58,561.13 L273.58,560.92 L274.58,560.71 L275.58,560.50 L276.58,560.30 L277.58,560.09 L278.58,559.89 L279.58,559.68 L280.58,559.48 L281.58,559.28 L282.58,559.08 L283.58,558.88 L284.58,558.68 L285.58,558.49 L286.58,558.29 L287.58,558.10 L288.58,557.90 L289.58,557.71 L290.58,557.52 L291.58,557.33 L292.58,557.14 L293.58,556.96 L294.58,556.77 L295.58,556.59 L296.58,556.40 L297.58,556.22 L298.58,556.04 L299.58,555.86 L300.58,555.68 L301.57,555.50 L302.57,555.32 L303.57,555.14 L304.57,554.97 L305.57,554.80 L306.57,554.62 L307.57,554.45 L308.57,554.28 L309.57,554.11 L310.57,553.94 L311.57,553.77 L312.57,553.61 L313.57,553.44 L314.57,553.28 L315.57,553.12 L316.57,552.95 L317.57,552.79 L318.57,552.63 L319.57,552.47 L320.57,552.32 L321.57,552.16 L322.57,552.00 L323.57,551.85 L324.57,551.70 L325.57,551.54 L326.57,551.39 L327.57,551.24 L328.57,551.09 L329.57,550.94 L330.57,550.79 L331.57,550.65 L332.57,550.50 L333.56,550.36 L334.56,550.21 L335.56,550.07 L336.56,549.93 L337.56,549.79 L338.56,549.65 L339.56,549.51 L340.56,549.37 L341.56,549.24 L342.56,549.10 L343.56,548.96 L344.56,548.83 L345.56,548.70 L346.56,548.57 L347.56,548.43 L348.56,548.30 L349.56,548.17 L350.56,548.05 L351.56,547.92 L352.56,547.79 L353.56,547.66 L354.56,547.54 L355.56,547.42 L356.56,547.29 L357.56,547.17 L358.56,547.05 L359.56,546.93 L360.56,546.81 L361.56,546.69 L362.56,546.57 L363.56,546.45 L364.56,546.33 L365.55,546.22 L366.55,546.10 L367.55,545.99 L368.55,545.88 L369.55,545.76 L370.55,545.65 L371.55,545.54 L372.55,545.43 L373.55,545.32 L374.55,545.21 L375.55,545.10 L376.55,545.00 L377.55,544.89 L378.55,544.78 L379.55,544.68 L380.55,544.58 L381.55,544.47 L382.55,544.37 L383.55,544.27 L384.55,544.17 L385.55,544.07 L386.55,543.97 L387.55,543.87 L388.55,543.77 L389.55,543.67 L390.55,543.57 L391.55,543.48 L392.55,543.38 L393.55,543.29 L394.55,543.19 L395.55,543.10 L396.54,543.01 L397.54,542.91 L398.54,542.82 L399.54,542.73 L400.54,542.64 L401.54,542.55 L402.54,542.46 L403.54,542.37 L404.54,542.29 L405.54,542.20 L406.54,542.11 L407.54,542.03 L408.54,541.94 L409.54,541.86 L410.54,541.78 L411.54,541.69 L412.54,541.61 L413.54,541.53 L414.54,541.45 L415.54,541.37 L416.54,541.29 L417.54,541.21 L418.54,541.13 L419.54,541.06 L420.54,540.98 L421.54,540.90 L422.54,540.83 L423.54,540.75 L424.54,540.68 L425.54,540.60 L426.54,540.53 L427.54,540.46 L428.53,540.39 L429.53,540.32 L430.53,540.25 L431.53,540.18 L432.53,540.11 L433.53,540.04 L434.53,539.97 L435.53,539.91 L436.53,539.84 L437.53,539.77 L438.53,539.71 L439.53,539.65 L440.53,539.58 L441.53,539.52 L442.53,539.46 L443.53,539.40 L444.53,539.34 L445.53,539.28 L446.53,539.22 L447.53,539.16 L448.53,539.10 L449.53,539.05 L450.53,538.99 L451.53,538.94 L452.53,538.88 L453.53,538.83 L454.53,538.78 L455.53,538.72 L456.53,538.67 L457.53,538.62 L458.53,538.57 L459.53,538.53 L460.52,538.48 L461.52,538.43 L462.52,538.39 L463.52,538.34 L464.52,538.30 L465.52,538.25 L466.52,538.21 L467.52,538.17 L468.52,538.13 L469.52,538.09 L470.52,538.05 L471.52,538.01 L472.52,537.98 L473.52,537.94 L474.52,537.91 L475.52,537.88 L476.52,537.84 L477.52,537.81 L478.52,537.78 L479.52,537.75 L480.52,537.72 L481.52,537.70 L482.52,537.67 L483.52,537.65 L484.52,537.62 L485.52,537.60 L486.52,537.58 L487.52,537.56 L488.52,537.54 L489.52,537.53 L490.52,537.51 L491.52,537.50 L492.51,537.48 L493.51,537.47 L494.51,537.46 L495.51,537.45 L496.51,537.44 L497.51,537.44 L498.51,537.43 L499.51,537.43 L500.51,537.43 L501.51,537.43 L502.51,537.43 L503.51,537.43 L504.51,537.44 L505.51,537.44 L506.51,537.45 L507.51,537.46 L508.51,537.47 L509.51,537.48 L510.51,537.50 L511.51,537.52 L512.51,537.53 L513.51,537.55 L514.51,537.58 L515.51,537.60 L516.51,537.63 L517.51,537.65 L518.51,537.68 L519.51,537.71 L520.51,537.75 L521.51,537.78 L522.51,537.82 L523.51,537.86 L524.50,537.90 L525.50,537.95 L526.50,538.00 L527.50,538.04 L528.50,538.10 L529.50,538.15 L530.50,538.20 L531.50,538.26 L532.50,538.32 L533.50,538.39 L534.50,538.45 L535.50,538.52 L536.50,538.59 L537.50,538.67 L538.50,538.74 L539.50,538.82" fill="none" stroke="#0d4a8c" stroke-width="1.3"/>
<path d="M107.55,627.46 L108.55,627.45 L109.55,627.44 L110.55,627.43 L111.55,627.42 L112.55,627.41 L113.55,627.41 L114.55,627.40 L115.55,627.39 L116.55,627.39 L117.55,627.38 L118.55,627.38 L119.56,627.38 L120.56,627.37 L121.56,627.37 L122.56,627.37 L123.56,627.36 L124.56,627.36 L125.56,627.36 L126.56,627.36 L127.56,627.36 L128.56,627.36 L129.56,627.36 L130.56,627.36 L131.56,627.36 L132.56,627.36 L133.56,627.36 L134.56,627.37 L135.56,627.37 L136.56,627.37 L137.56,627.37 L138.56,627.37 L139.56,627.38 L140.56,627.38 L141.56,627.38 L142.57,627.39 L143.57,627.39 L144.57,627.39 L145.57,627.39 L146.57,627.40 L147.57,627.40 L148.57,627.40 L149.57,627.41 L150.57,627.41 L151.57,627.42 L152.57,627.42 L153.57,627.42 L154.57,627.43 L155.57,627.43 L156.57,627.43 L157.57,627.44 L158.57,627.44 L159.57,627.44 L160.57,627.45 L161.57,627.45 L162.57,627.45 L163.57,627.46 L164.57,627.46 L165.58,627.46 L166.58,627.46 L167.58,627.47 L168.58,627.47 L169.58,627.47 L170.58,627.47 L171.58,627.48 L172.58,627.48 L173.58,627.48 L174.58,627.48 L175.58,627.48 L176.58,627.48 L177.58,627.48 L178.58,627.48 L179.58,627.48 L180.58,627.48 L181.58,627.48 L182.58,627.48 L183.58,627.48 L184.58,627.48 L185.58,627.48 L186.58,627.48 L187.59,627.48 L188.59,627.48 L189.59,627.48 L190.59,627.47 L191.59,627.47 L192.59,627.47 L193.59,627.47 L194.59,627.46 L195.59,627.46 L196.59,627.46 L197.59,627.45 L198.59,627.45 L199.59,627.44 L200.59,627.44 L201.59,627.43 L202.59,627.43 L203.59,627.42 L204.59,627.42 L205.59,627.41 L206.59,627.41 L207.59,627.40 L208.59,627.39 L209.59,627.38 L210.60,627.38 L211.60,627.37 L212.60,627.36 L213.60,627.35 L214.60,627.34 L215.60,627.33 L216.60,627.33 L217.60,627.32 L218.60,627.31 L219.60,627.30 L220.60,627.29 L221.60,627.28" fill="none" stroke="#000" stroke-width="1"/>
<path d="M221.60,627.28 L222.60,627.26 L223.60,627.25 L224.60,627.24 L225.60,627.23 L226.60,627.22 L227.60,627.21 L228.60,627.19 L229.60,627.18 L230.60,627.17 L231.60,627.15 L232.60,627.14 L233.60,627.13 L234.60,627.11 L235.60,627.10 L236.60,627.08 L237.59,627.07 L238.59,627.05 L239.59,627.04 L240.59,627.02 L241.59,627.01 L242.59,626.99 L243.59,626.97 L244.59,626.96 L245.59,626.94 L246.59,626.92 L247.59,626.91 L248.59,626.89 L249.59,626.87 L250.59,626.85 L251.59,626.83 L252.59,626.82 L253.59,626.80 L254.59,626.78 L255.59,626.76 L256.59,626.74 L257.59,626.72 L258.59,626.70 L259.59,626.68 L260.59,626.66 L261.59,626.64 L262.59,626.62 L263.59,626.60 L264.59,626.58 L265.59,626.56 L266.59,626.53 L267.59,626.51 L268.59,626.49 L269.58,626.47 L270.58,626.45 L271.58,626.42 L272.58,626.40 L273.58,626.38 L274.58,626.36 L275.58,626.33 L276.58,626.31 L277.58,626.29 L278.58,626.26 L279.58,626.24 L280.58,626.22 L281.58,626.19 L282.58,626.17 L283.58,626.15 L284.58,626.12 L285.58,626.10 L286.58,626.07 L287.58,626.05 L288.58,626.02 L289.58,626.00 L290.58,625.97 L291.58,625.95 L292.58,625.92 L293.58,625.90 L294.58,625.87 L295.58,625.84 L296.58,625.82 L297.58,625.79 L298.58,625.77 L299.58,625.74 L300.58,625.71 L301.57,625.69 L302.57,625.66 L303.57,625.63 L304.57,625.61 L305.57,625.58 L306.57,625.55 L307.57,625.53 L308.57,625.50 L309.57,625.47 L310.57,625.44 L311.57,625.42 L312.57,625.39 L313.57,625.36 L314.57,625.33 L315.57,625.31 L316.57,625.28 L317.57,625.25 L318.57,625.22 L319.57,625.19 L320.57,625.16 L321.57,625.13 L322.57,625.11 L323.57,625.08 L324.57,625.05 L325.57,625.02 L326.57,624.99 L327.57,624.96 L328.57,624.93 L329.57,624.90 L330.57,624.87 L331.57,624.84 L332.57,624.81 L333.56,624.78 L334.56,624.75 L335.56,624.72 L336.56,624.69 L337.56,624.66 L338.56,624.63 L339.56,624.59 L340.56,624.56 L341.56,624.53 L342.56,624.50 L343.56,624.47 L344.56,624.44 L345.56,624.40 L346.56,624.37 L347.56,624.34 L348.56,624.30 L349.56,624.27 L350.56,624.24 L351.56,624.20 L352.56,624.17 L353.56,624.14 L354.56,624.10 L355.56,624.07 L356.56,624.03 L357.56,624.00 L358.56,623.96 L359.56,623.93 L360.56,623.89 L361.56,623.85 L362.56,623.82 L363.56,623.78 L364.56,623.74 L365.55,623.70 L366.55,623.67 L367.55,623.63 L368.55,623.59 L369.55,623.55 L370.55,623.51 L371.55,623.47 L372.55,623.43 L373.55,623.39 L374.55,623.35 L375.55,623.31 L376.55,623.26 L377.55,623.22 L378.55,623.18 L379.55,623.14 L380.55,623.09 L381.55,623.05 L382.55,623.00 L383.55,622.96 L384.55,622.91 L385.55,622.86 L386.55,622.82 L387.55,622.77 L388.55,622.72 L389.55,622.67 L390.55,622.62 L391.55,622.57 L392.55,622.52 L393.55,622.47 L394.55,622.41 L395.55,622.36 L396.54,622.31 L397.54,622.25 L398.54,622.20 L399.54,622.14 L400.54,622.08 L401.54,622.02 L402.54,621.96 L403.54,621.90 L404.54,621.84 L405.54,621.78 L406.54,621.72 L407.54,621.66 L408.54,621.59 L409.54,621.52 L410.54,621.46 L411.54,621.39 L412.54,621.32 L413.54,621.25 L414.54,621.18 L415.54,621.11 L416.54,621.04 L417.54,620.96 L418.54,620.88 L419.54,620.81 L420.54,620.73 L421.54,620.65 L422.54,620.57 L423.54,620.49 L424.54,620.40 L425.54,620.32 L426.54,620.23 L427.54,620.14 L428.53,620.05 L429.53,619.96 L430.53,619.87 L431.53,619.78 L432.53,619.68 L433.53,619.59 L434.53,619.49 L435.53,619.39 L436.53,619.28 L437.53,619.18 L438.53,619.07 L439.53,618.97 L440.53,618.86 L441.53,618.75 L442.53,618.63 L443.53,618.52 L444.53,618.40 L445.53,618.28 L446.53,618.16 L447.53,618.04 L448.53,617.91 L449.53,617.78 L450.53,617.65 L451.53,617.52 L452.53,617.39 L453.53,617.25 L454.53,617.11 L455.53,616.97 L456.53,616.83 L457.53,616.68 L458.53,616.53 L459.53,616.38 L460.52,616.22 L461.52,616.07 L462.52,615.91 L463.52,615.75 L464.52,615.58 L465.52,615.41 L466.52,615.24 L467.52,615.07 L468.52,614.89 L469.52,614.71 L470.52,614.53 L471.52,614.35 L472.52,614.16 L473.52,613.97 L474.52,613.77 L475.52,613.57 L476.52,613.37 L477.52,613.17 L478.52,612.96 L479.52,612.75 L480.52,612.53 L481.52,612.31 L482.52,612.09 L483.52,611.86 L484.52,611.63 L485.52,611.40 L486.52,611.16 L487.52,610.92 L488.52,610.68 L489.52,610.43 L490.52,610.17 L491.52,609.92 L492.51,609.66 L493.51,609.39 L494.51,609.12 L495.51,608.85 L496.51,608.57 L497.51,608.28 L498.51,608.00 L499.51,607.70 L500.51,607.41 L501.51,607.10 L502.51,606.80 L503.51,606.49 L504.51,606.17 L505.51,605.85 L506.51,605.52 L507.51,605.19 L508.51,604.86 L509.51,604.51 L510.51,604.17 L511.51,603.82 L512.51,603.46 L513.51,603.09 L514.51,602.73 L515.51,602.35 L516.51,601.97 L517.51,601.59 L518.51,601.20 L519.51,600.80 L520.51,600.39 L521.51,599.99 L522.51,599.57 L523.51,599.15 L524.50,598.72 L525.50,598.29 L526.50,597.85 L527.50,597.40 L528.50,596.95 L529.50,596.49 L530.50,596.02 L531.50,595.54 L532.50,595.06 L533.50,594.58 L534.50,594.08 L535.50,593.58 L536.50,593.07 L537.50,592.55 L538.50,592.03 L539.50,591.50" fill="none" stroke="#000" stroke-width="1.8"/>
<text x="533.3" y="477" style="fill:#0b3f86">P1</text>
<text x="533.3" y="550" style="fill:#0b3f86">P2</text>
</svg></body></html>
